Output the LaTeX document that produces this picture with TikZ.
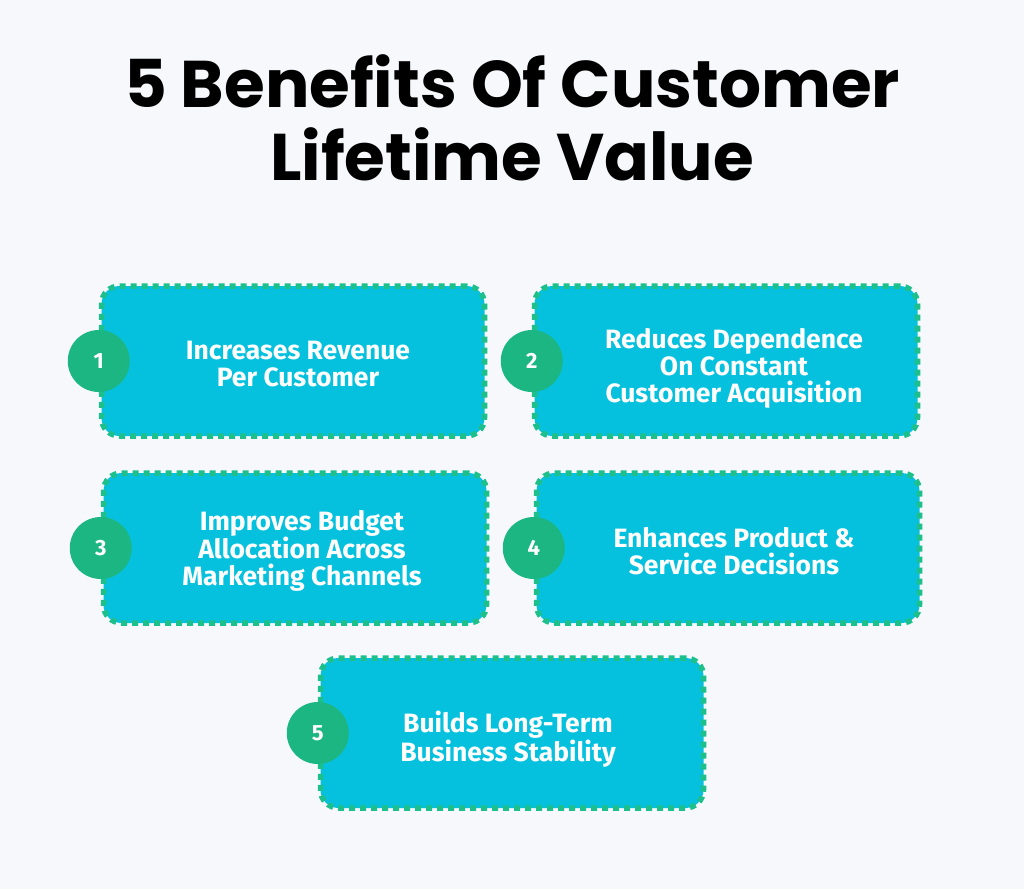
\documentclass[tikz,border=0pt]{standalone}
\usepackage{fontspec}
\setmainfont{Poppins}
\newfontfamily\boxfont{Fira Sans}
\definecolor{pagebg}{HTML}{F6F8FC}
\definecolor{boxfill}{HTML}{06C1DE}
\definecolor{dotgreen}{HTML}{1DC08A}
\tikzset{
    benefit/.style={draw=dotgreen, fill=boxfill, line width=5.5pt,
        dash pattern=on 6pt off 5pt, rounded corners=18pt,
        minimum width=383pt, minimum height=150pt, inner sep=0pt},
    label/.style={text=white, align=center,
        font=\boxfont\bfseries\fontsize{26.5}{27}\selectfont},
    badge/.style={circle, fill=dotgreen!95!black, minimum size=62pt,
        inner sep=0pt, text=white, font=\boxfont\bfseries\fontsize{22}{24}\selectfont}
}
\begin{document}
\begin{tikzpicture}[x=1pt, y=-1pt]
    \fill[pagebg] (0, 0) rectangle (1024, 889);
    \useasboundingbox (0, 0) rectangle (1024, 889);

    \node[align=center, font=\bfseries\fontsize{66}{73}\selectfont] (title)
        at (512, 118) {5 Benefits Of Customer\\Lifetime Value};

    % the five boxes
    \node[benefit] (b1) at (293, 361) {};
    \node[benefit] (b2) at (726, 361) {};
    \node[benefit] (b3) at (295, 548) {};
    \node[benefit] (b4) at (728, 548) {};
    \node[benefit] (b5) at (512, 733) {};

    \node[label] (t1) at (298, 364) {Increases Revenue\\Per Customer};
    \node[label] (t2) at (734, 368) {Reduces Dependence\\On Constant\\Customer Acquisition};
    \node[label] (t3) at (302, 551) {Improves Budget\\Allocation Across\\Marketing Channels};
    \node[label] (t4) at (734, 551) {Enhances Product \&\\Service Decisions};
    \node[label] (t5) at (508, 739) {Builds Long-Term\\Business Stability};

    % badges
    \node[badge] (n1) at (b1.west) {1};
    \node[badge] (n2) at (b2.west) {2};
    \node[badge] (n3) at (b3.west) {3};
    \node[badge] (n4) at (b4.west) {4};
    \node[badge] (n5) at (b5.west) {5};
\end{tikzpicture}
\end{document}
